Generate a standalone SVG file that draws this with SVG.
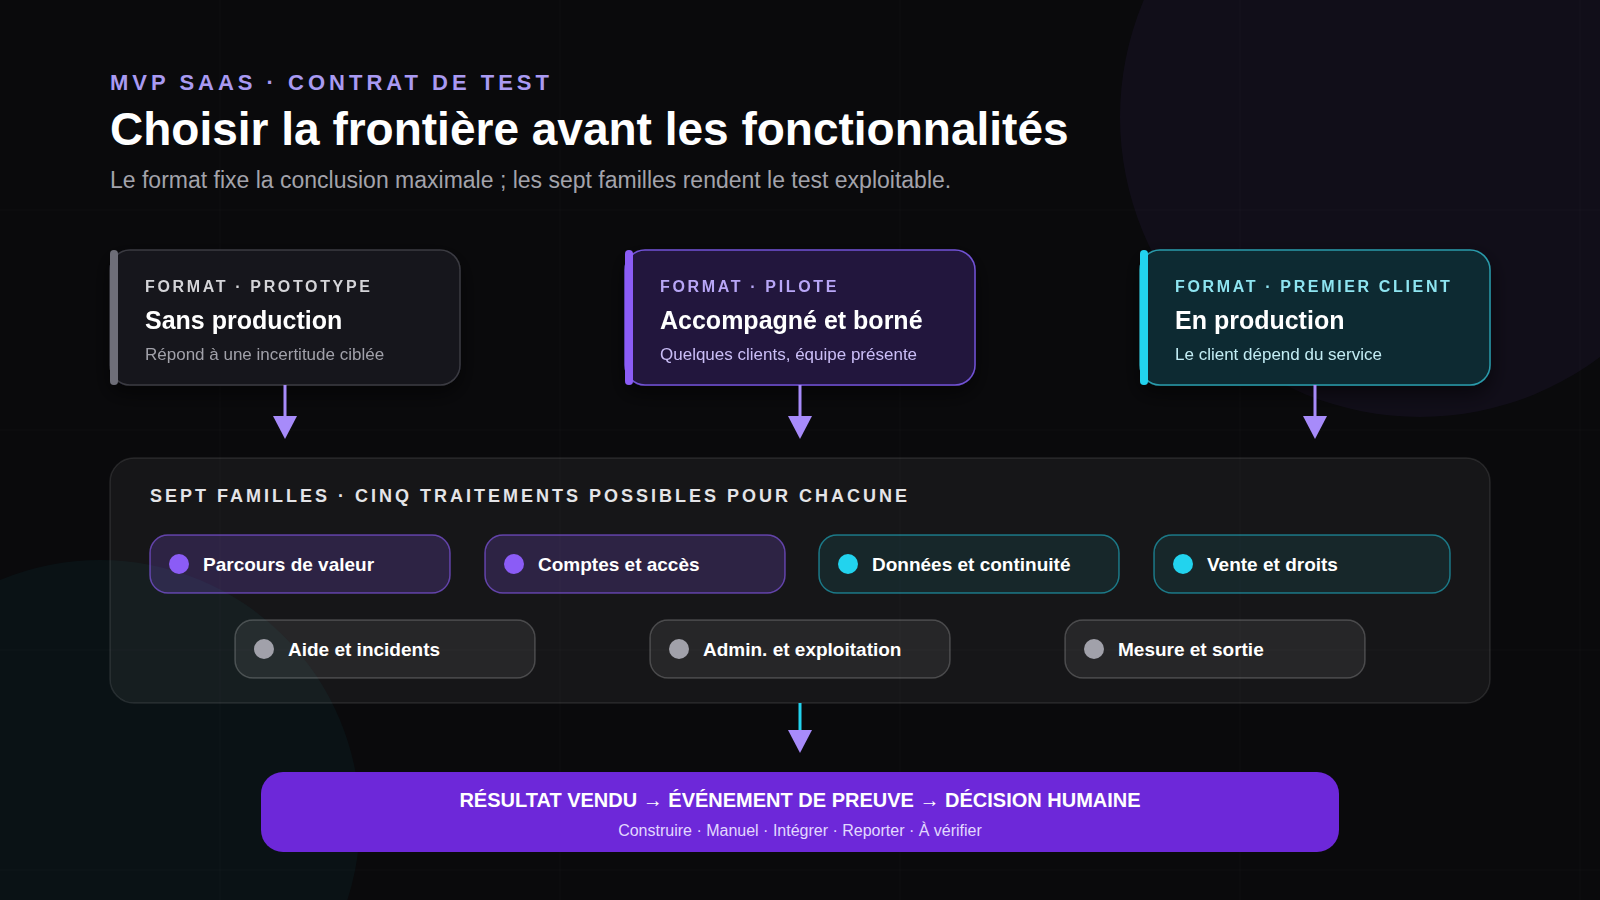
<svg xmlns="http://www.w3.org/2000/svg" width="1600" height="900" viewBox="0 0 1600 900">
  <defs>
    <style>
      .f { font-family: "Liberation Sans", Arial, sans-serif; }
      .eyebrow { font-size: 22px; font-weight: 700; letter-spacing: 4px; fill: #a99af2; }
      .title { font-size: 46px; font-weight: 700; fill: #ffffff; }
      .subtitle { font-size: 23px; fill: #a3a3ab; }
      .clabel { font-size: 16px; font-weight: 700; letter-spacing: 2.65px; }
      .ctitle { font-size: 25px; font-weight: 700; fill: #ffffff; }
      .csub { font-size: 17px; }
      .sect { font-size: 18px; font-weight: 700; letter-spacing: 3px; fill: #e4e4e7; }
      .pill-text { font-size: 19px; font-weight: 700; fill: #ffffff; }
      .pill-p { fill: rgba(139,92,246,0.2); stroke: rgba(139,92,246,0.62); stroke-width: 1.5; }
      .pill-c { fill: rgba(34,211,238,0.09); stroke: rgba(34,211,238,0.5); stroke-width: 1.5; }
      .pill-g { fill: rgba(255,255,255,0.07); stroke: rgba(255,255,255,0.2); stroke-width: 1.5; }
      .grid { stroke: #ffffff; stroke-opacity: 0.025; stroke-width: 1; }
      .conn { fill: none; stroke-width: 3; }
    </style>
    <marker id="arrow" markerUnits="userSpaceOnUse" markerWidth="24" markerHeight="24" viewBox="0 -12 23 24" refX="0" refY="0" orient="auto">
      <path d="M0,-12 L23,0 L0,12 Z" fill="#a78bfa"/>
    </marker>
    <filter id="shadow" x="-10%" y="-20%" width="120%" height="150%">
      <feDropShadow dx="0" dy="8" stdDeviation="10" flood-color="#000000" flood-opacity="0.55"/>
    </filter>
  </defs>

  <!-- background -->
  <rect x="0" y="0" width="1600" height="900" fill="#0a0a0c"/>
  <circle cx="1420" cy="117" r="300" fill="#8b5cf6" fill-opacity="0.06"/>
  <circle cx="100" cy="820" r="260" fill="#22d3ee" fill-opacity="0.045"/>
  <g id="grid">
    <line class="grid" x1="220" y1="0" x2="220" y2="900"/>
    <line class="grid" x1="560" y1="0" x2="560" y2="900"/>
    <line class="grid" x1="900" y1="0" x2="900" y2="900"/>
    <line class="grid" x1="1240" y1="0" x2="1240" y2="900"/>
    <line class="grid" x1="1580" y1="0" x2="1580" y2="900"/>
    <line class="grid" x1="0" y1="210" x2="1600" y2="210"/>
    <line class="grid" x1="0" y1="430" x2="1600" y2="430"/>
    <line class="grid" x1="0" y1="650" x2="1600" y2="650"/>
    <line class="grid" x1="0" y1="870" x2="1600" y2="870"/>
  </g>

  <!-- header -->
  <g id="header" class="f">
    <text class="f eyebrow" x="110" y="90">MVP SAAS · CONTRAT DE TEST</text>
    <text class="f title" x="110" y="145">Choisir la frontière avant les fonctionnalités</text>
    <text class="f subtitle" x="110" y="188">Le format fixe la conclusion maximale ; les sept familles rendent le test exploitable.</text>
  </g>

  <!-- format cards -->
  <g id="card-prototype" filter="url(#shadow)">
    <rect x="110" y="250" width="350" height="135" rx="20" fill="#16161b" stroke="#3a3a42" stroke-width="1.5"/>
    <rect x="110" y="250" width="8" height="135" rx="4" fill="#6e6e78"/>
    <text class="f clabel" x="145" y="292" fill="#d4d4d8">FORMAT · PROTOTYPE</text>
    <text class="f ctitle" x="145" y="329">Sans production</text>
    <text class="f csub" x="145" y="360" fill="#a1a1aa">Répond à une incertitude ciblée</text>
  </g>
  <g id="card-pilote" filter="url(#shadow)">
    <rect x="625" y="250" width="350" height="135" rx="20" fill="#20183c" stroke="#7252d6" stroke-width="1.5"/>
    <rect x="625" y="250" width="8" height="135" rx="4" fill="#8b5cf6"/>
    <text class="f clabel" x="660" y="292" fill="#b9a6f7">FORMAT · PILOTE</text>
    <text class="f ctitle" x="660" y="329">Accompagné et borné</text>
    <text class="f csub" x="660" y="360" fill="#cbbdf7">Quelques clients, équipe présente</text>
  </g>
  <g id="card-premier-client" filter="url(#shadow)">
    <rect x="1140" y="250" width="350" height="135" rx="20" fill="#0e2932" stroke="#2a9bab" stroke-width="1.5"/>
    <rect x="1140" y="250" width="8" height="135" rx="4" fill="#22d3ee"/>
    <text class="f clabel" x="1175" y="292" fill="#8ee5f1">FORMAT · PREMIER CLIENT</text>
    <text class="f ctitle" x="1175" y="329">En production</text>
    <text class="f csub" x="1175" y="360" fill="#c2edf4">Le client dépend du service</text>
  </g>

  <!-- families container -->
  <g id="familles">
    <rect x="110" y="458" width="1380" height="245" rx="24" fill="#ffffff" fill-opacity="0.05" stroke="#ffffff" stroke-opacity="0.1" stroke-width="1.5"/>
    <text class="f sect" x="150" y="502">SEPT FAMILLES · CINQ TRAITEMENTS POSSIBLES POUR CHACUNE</text>
  </g>

  <g id="pill-parcours">
    <rect class="pill-p" x="150" y="535" width="300" height="58" rx="18"/>
    <circle cx="179" cy="564" r="10" fill="#8b5cf6"/>
    <text class="f pill-text" x="203" y="571">Parcours de valeur</text>
  </g>
  <g id="pill-comptes">
    <rect class="pill-p" x="485" y="535" width="300" height="58" rx="18"/>
    <circle cx="514" cy="564" r="10" fill="#8b5cf6"/>
    <text class="f pill-text" x="538" y="571">Comptes et accès</text>
  </g>
  <g id="pill-donnees">
    <rect class="pill-c" x="819" y="535" width="300" height="58" rx="18"/>
    <circle cx="848" cy="564" r="10" fill="#22d3ee"/>
    <text class="f pill-text" x="872" y="571">Données et continuité</text>
  </g>
  <g id="pill-vente">
    <rect class="pill-c" x="1154" y="535" width="296" height="58" rx="18"/>
    <circle cx="1183" cy="564" r="10" fill="#22d3ee"/>
    <text class="f pill-text" x="1207" y="571">Vente et droits</text>
  </g>
  <g id="pill-aide">
    <rect class="pill-g" x="235" y="620" width="300" height="58" rx="18"/>
    <circle cx="264" cy="649" r="10" fill="#a1a1aa"/>
    <text class="f pill-text" x="288" y="656">Aide et incidents</text>
  </g>
  <g id="pill-admin">
    <rect class="pill-g" x="650" y="620" width="300" height="58" rx="18"/>
    <circle cx="679" cy="649" r="10" fill="#a1a1aa"/>
    <text class="f pill-text" x="703" y="656">Admin. et exploitation</text>
  </g>
  <g id="pill-mesure">
    <rect class="pill-g" x="1065" y="620" width="300" height="58" rx="18"/>
    <circle cx="1094" cy="649" r="10" fill="#a1a1aa"/>
    <text class="f pill-text" x="1118" y="656">Mesure et sortie</text>
  </g>

  <!-- result banner -->
  <g id="resultat">
    <rect x="261" y="772" width="1078" height="80" rx="22" fill="#6d28d9"/>
    <text class="f" x="800" y="807" text-anchor="middle" font-size="20" font-weight="700" fill="#ffffff">RÉSULTAT VENDU → ÉVÉNEMENT DE PREUVE → DÉCISION HUMAINE</text>
    <text class="f" x="800" y="836" text-anchor="middle" font-size="16" fill="#e2d8ff">Construire · Manuel · Intégrer · Reporter · À vérifier</text>
  </g>

  <!-- connectors -->
  <g id="connectors">
    <path class="conn" d="M285,385 L285,416" stroke="#a78bfa" marker-end="url(#arrow)"/>
    <path class="conn" d="M800,385 L800,416" stroke="#a78bfa" marker-end="url(#arrow)"/>
    <path class="conn" d="M1315,385 L1315,416" stroke="#a78bfa" marker-end="url(#arrow)"/>
    <path class="conn" d="M800,703 L800,730" stroke="#22d3ee" marker-end="url(#arrow)"/>
  </g>
</svg>
